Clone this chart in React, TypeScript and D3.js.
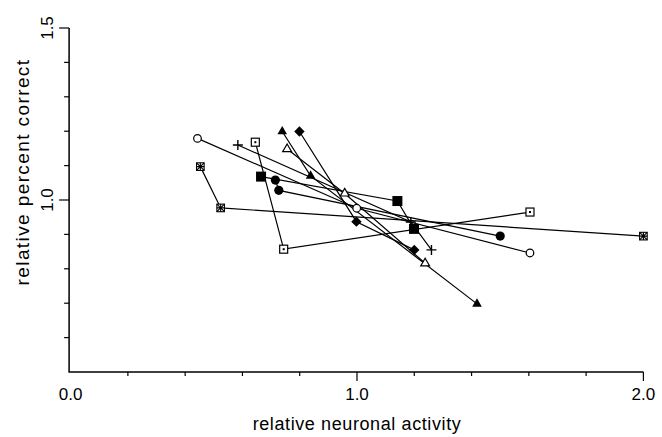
import React from "react";
import * as d3 from "d3";

// Each animal/series: three conditions, connected in order
const seriesSymbols = [
  "circleOpen",
  "xbox",
  "squareOpen",
  "plus",
  "squareFilled",
  "triFilled",
  "triOpen",
  "diamondFilled",
  "circleFilled",
];

const neuronalActivity: number[][] = [
  [0.443, 0.999, 1.604],
  [0.453, 0.524, 2.0],
  [0.645, 0.744, 1.604],
  [0.584, 1.188, 1.26],
  [0.665, 1.141, 1.199],
  [0.739, 0.838, 1.419],
  [0.756, 0.957, 1.238],
  [0.799, 0.998, 1.2],
  [0.715, 0.727, 1.5],
];

const percentCorrect: number[][] = [
  [1.179, 0.976, 0.846],
  [1.097, 0.977, 0.895],
  [1.168, 0.857, 0.965],
  [1.16, 0.936, 0.855],
  [1.068, 0.997, 0.916],
  [1.199, 1.07, 0.698],
  [1.148, 1.019, 0.816],
  [1.199, 0.937, 0.855],
  [1.058, 1.028, 0.895],
];

const xTicks = [0, 0.2, 0.4, 0.6, 0.8, 1.0, 1.2, 1.4, 1.6, 1.8, 2.0];
const xTickLabels = ["0.0", "1.0", "2.0"];
const xLabelValues = [0, 1, 2];
const yTicks = [0.6, 0.7, 0.8, 0.9, 1.0, 1.1, 1.2, 1.3, 1.4, 1.5];
const yTickLabels = ["1.0", "1.5"];
const yLabelValues = [1.0, 1.5];

const W = 662;
const H = 437;

function Marker({ type, cx, cy }: { type: string; cx: number; cy: number }) {
  const sw = 1.2;
  switch (type) {
    case "circleOpen":
      return <circle cx={cx} cy={cy} r={3.8} fill="#fff" stroke="#000" strokeWidth={sw} />;
    case "circleFilled":
      return <circle cx={cx} cy={cy} r={4.6} fill="#000" />;
    case "squareOpen":
      return (
        <g>
          <rect x={cx - 4} y={cy - 4} width={8} height={8} fill="#fff" stroke="#000" strokeWidth={sw} />
          <rect x={cx - 1} y={cy - 1} width={2} height={2} fill="#000" />
        </g>
      );
    case "squareFilled":
      return <rect x={cx - 5} y={cy - 5} width={10} height={10} fill="#000" />;
    case "triFilled": {
      const p = d3.symbol(d3.symbolTriangle, 40)();
      return <path d={p || ""} transform={`translate(${cx},${cy})`} fill="#000" />;
    }
    case "triOpen": {
      const p = d3.symbol(d3.symbolTriangle, 34)();
      return <path d={p || ""} transform={`translate(${cx},${cy})`} fill="#fff" stroke="#000" strokeWidth={sw} />;
    }
    case "diamondFilled":
      return (
        <path
          d={`M${cx},${cy - 5.2}L${cx + 5.2},${cy}L${cx},${cy + 5.2}L${cx - 5.2},${cy}Z`}
          fill="#000"
        />
      );
    case "plus":
      return (
        <path
          d={`M${cx - 5},${cy}H${cx + 5}M${cx},${cy - 5}V${cy + 5}`}
          stroke="#000"
          strokeWidth={1.4}
        />
      );
    case "xbox":
      return (
        <g stroke="#000" strokeWidth={1.1}>
          <rect x={cx - 3.8} y={cy - 3.8} width={7.6} height={7.6} fill="#fff" />
          <path d={`M${cx - 3.8},${cy - 3.8}L${cx + 3.8},${cy + 3.8}M${cx + 3.8},${cy - 3.8}L${cx - 3.8},${cy + 3.8}M${cx - 3.8},${cy}H${cx + 3.8}M${cx},${cy - 3.8}V${cy + 3.8}`} />
        </g>
      );
    default:
      return null;
  }
}

export default function App() {
  const x = d3.scaleLinear().domain([0, 2]).range([70.6, 643.4]);
  const y = d3.scaleLinear().domain([0.5, 1.5]).range([372, 28]);
  const line = d3
    .line<[number, number]>()
    .x((d) => x(d[0]))
    .y((d) => y(d[1]));

  const font = "'Liberation Sans', Arial, Helvetica, sans-serif";
  const x0 = x(0) - 1.5;
  const yBase = y(0.5);

  return (
    <svg
      width={W}
      height={H}
      style={{ position: "absolute", left: 0, top: 0, background: "#fff" }}
    >
      <rect width={W} height={H} fill="#fff" />
      {/* axes */}
      <path d={`M${x0},${y(1.5)}V${yBase}H${x(2)}`} fill="none" stroke="#000" strokeWidth={1.5} />
      {yTicks.map((t) => {
        const major = yLabelValues.includes(t);
        return (
          <line key={"yt" + t} x1={x0 - (major ? 10 : 5)} x2={x0} y1={y(t)} y2={y(t)} stroke="#000" strokeWidth={1.2} />
        );
      })}
      {xTicks.map((t) => {
        const major = xLabelValues.includes(t);
        if (t === 0) return null;
        return (
          <line key={"xt" + t} x1={x(t)} x2={x(t)} y1={yBase} y2={yBase + (major ? 9 : 4)} stroke="#000" strokeWidth={1.2} />
        );
      })}
      {xTickLabels.map((lab, i) => (
        <text key={"xl" + lab} x={x(xLabelValues[i])} y={400} textAnchor="middle" fontFamily={font} fontSize={17} fill="#000">
          {lab}
        </text>
      ))}
      {yTickLabels.map((lab, i) => (
        <text
          key={"yl" + lab}
          transform={`translate(${53},${y(yLabelValues[i])}) rotate(-90)`}
          textAnchor="middle"
          fontFamily={font}
          fontSize={17}
          fill="#000"
        >
          {lab}
        </text>
      ))}
      <text x={357} y={430} textAnchor="middle" fontFamily={font} fontSize={18} letterSpacing={0.6} fill="#000">
        relative neuronal activity
      </text>
      <text
        transform={`translate(${29},${172}) rotate(-90)`}
        textAnchor="middle"
        fontFamily={font}
        fontSize={19}
        letterSpacing={1.4}
        fill="#000"
      >
        relative percent correct
      </text>
      {/* series lines */}
      {seriesSymbols.map((s, i) => {
        const pts = neuronalActivity[i].map((v, j) => [v, percentCorrect[i][j]] as [number, number]);
        return <path key={"l" + i} d={line(pts) || ""} fill="none" stroke="#000" strokeWidth={1.2} />;
      })}
      {/* markers */}
      {seriesSymbols.map((s, i) =>
        neuronalActivity[i].map((v, j) => (
          <Marker key={`m${i}-${j}`} type={s} cx={x(v)} cy={y(percentCorrect[i][j])} />
        ))
      )}
    </svg>
  );
}
